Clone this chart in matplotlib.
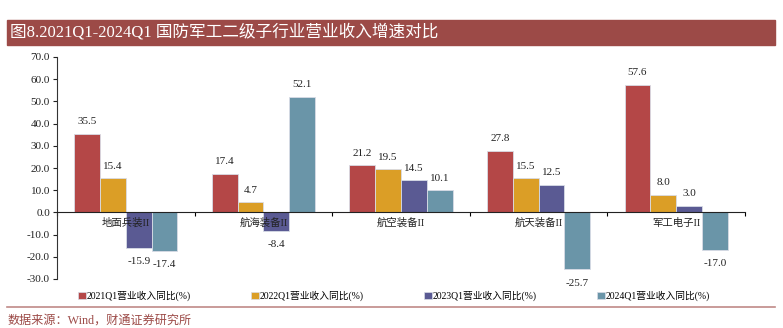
import numpy as np
import matplotlib.pyplot as plt
from matplotlib.patches import Rectangle, Patch
from matplotlib.lines import Line2D

plt.rcParams['font.family'] = ['Liberation Serif', 'Noto Sans CJK SC']

categories = ["地面兵装II", "航海装备II", "航空装备II", "航天装备II", "军工电子II"]
series_names = ["2021Q1营业收入同比(%)", "2022Q1营业收入同比(%)",
                "2023Q1营业收入同比(%)", "2024Q1营业收入同比(%)"]
v2021 = [35.5, 17.4, 21.2, 27.8, 57.6]
v2022 = [15.4, 4.7, 19.5, 15.5, 8.0]
v2023 = [-15.9, -8.4, 14.5, 12.5, 3.0]
v2024 = [-17.4, 52.1, 10.1, -25.7, -17.0]
colors = ["#B44747", "#DB9E26", "#5A5A93", "#6A95A8"]

fig = plt.figure(figsize=(7.83, 3.28), dpi=100)
W, H = 783, 328

# title bar
fig.patches.append(Rectangle((7 / W, 1 - 45 / H), 768 / W, 25 / H,
                             transform=fig.transFigure, color="#9C4A47", zorder=0))
fig.text(10 / W, 1 - 32 / H, "图8.2021Q1-2024Q1 国防军工二级子行业营业收入增速对比",
         color="white", fontsize=12, va="center", ha="left")

ax = fig.add_axes([57 / W, 1 - 279 / H, (745 - 57) / W, (279 - 57) / H])
x = np.arange(len(categories))
bw = 0.1875
all_vals = [v2021, v2022, v2023, v2024]
for i, vals in enumerate(all_vals):
    pos = x + (i - 1.5) * bw
    ax.bar(pos, vals, width=bw, color=colors[i], edgecolor="#D8DCE6",
           linewidth=0.6, label=series_names[i], zorder=2)
    for px, v in zip(pos, vals):
        off = 3.3 if v >= 0 else -4.2
        ax.text(px, v + off, f"{v:.1f}", ha="center",
                va="bottom" if v >= 0 else "top", fontsize=8, color="#222222")

for xi, c in zip(x, categories):
    ax.text(xi, -2.4, c, ha="center", va="top", fontsize=7.5, color="#222222", zorder=3)

ax.set_xlim(-0.5, len(categories) - 0.5)
ax.set_ylim(-30, 70)
ax.set_yticks(np.arange(-30, 71, 10))
ax.set_yticklabels([f"{t:.1f}" for t in np.arange(-30, 71, 10)], fontsize=8)
ax.set_xticks(np.arange(-0.5, len(categories), 1.0))
ax.set_xticklabels([])
ax.spines["bottom"].set_position(("data", 0))
ax.spines["top"].set_visible(False)
ax.spines["right"].set_visible(False)
ax.spines["left"].set_color("#333333")
ax.spines["bottom"].set_color("#222222")
ax.spines["bottom"].set_zorder(3)
ax.tick_params(axis="y", length=3, width=0.8, pad=2, colors="#222222")
ax.tick_params(axis="x", length=3, width=0.8, direction="out")

handles = [Patch(facecolor=c, edgecolor="#D8DCE6", linewidth=0.5) for c in colors]
fig.legend(handles, series_names, loc="center", bbox_to_anchor=(0.503, 1 - 296 / H),
           ncol=4, frameon=False, fontsize=7, handlelength=0.8, handleheight=0.8,
           handletextpad=0.1, columnspacing=6.2)

fig.lines.append(Line2D([7 / W, 775 / W], [1 - 307 / H, 1 - 307 / H],
                        transform=fig.transFigure, color="#C08A88", linewidth=1.2))
fig.text(8 / W, 1 - 321 / H, "数据来源：Wind，财通证券研究所", color="#9C4A47",
         fontsize=8.7, va="center", ha="left")

fig.savefig("out.png", dpi=100)
